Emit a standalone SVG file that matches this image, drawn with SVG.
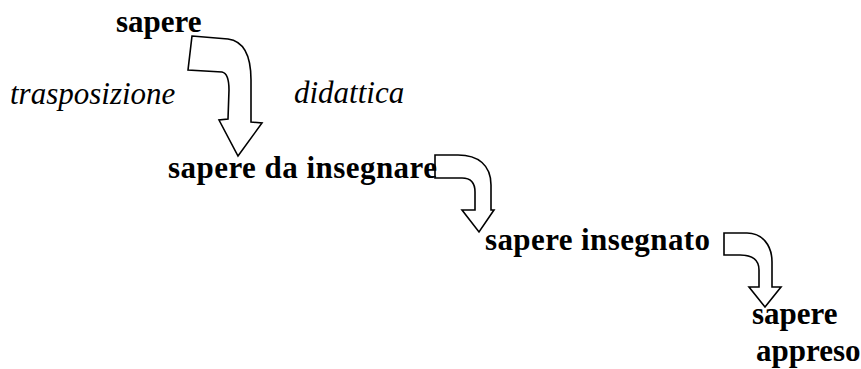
<svg xmlns="http://www.w3.org/2000/svg" width="861" height="369" viewBox="0 0 861 369">
  <style>
    .lbl { font-family: "Liberation Serif", "Times New Roman", serif; font-size: 31px; font-weight: bold; fill: #000; }
    .it { font-family: "Liberation Serif", "Times New Roman", serif; font-size: 31px; font-style: italic; fill: #000; }
    .arrow { fill: #fff; stroke: #000; stroke-width: 1.6; stroke-linejoin: miter; }
  </style>
  <rect width="861" height="369" fill="#fff"/>

  <!-- curved block arrows between stages -->
  <g id="connectors">
    <path class="arrow" d="M192,36 L228,39 C243,41 251,55 251,80 L251,122 L262,123 L238,156 L219,120 L228,119 L229,90 C229,78 227,73 222,72 L188,70 Z"/>
    <path class="arrow" d="M435,155 L458,155 C478,155 491,165 491,185 L491,210 L494,210 L479,232 L462,210 L475,210 L475,192 C475,182 470,178 462,178 L435,178 Z"/>
    <path class="arrow" d="M724,233 L747,233 C762,233 772,245 772,262 L772,287 L781,287 L765,307 L749,287 L759,287 L759,270 C759,260 752,255 740,255 L724,255 Z"/>
  </g>

  <g id="sapere">
    <text class="lbl" x="116" y="32">sapere</text>
  </g>
  <g id="trasposizione-didattica">
    <text class="it" x="10" y="104">trasposizione</text>
    <text class="it" x="294" y="103">didattica</text>
  </g>
  <g id="sapere-da-insegnare">
    <text class="lbl" x="168" y="178" textLength="269" lengthAdjust="spacing">sapere da insegnare</text>
  </g>
  <g id="sapere-insegnato">
    <text class="lbl" x="485" y="250" textLength="225" lengthAdjust="spacing">sapere insegnato</text>
  </g>
  <g id="sapere-appreso">
    <text class="lbl" x="752" y="324">sapere</text>
    <text class="lbl" x="756" y="361">appreso</text>
  </g>
</svg>
